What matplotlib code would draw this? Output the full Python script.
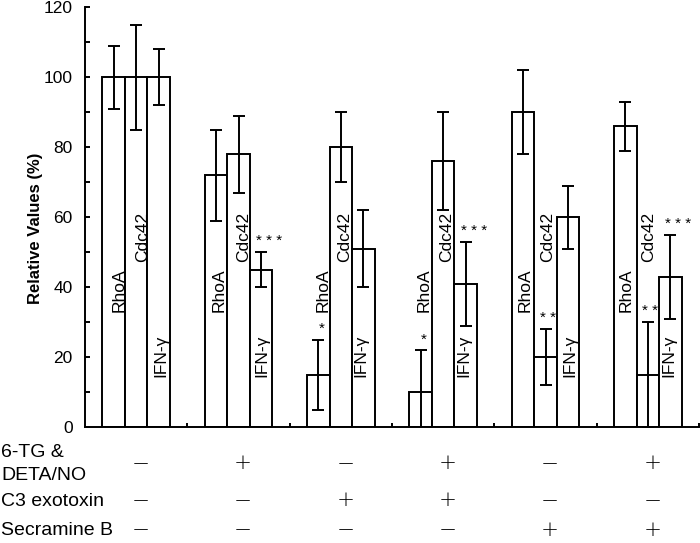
import matplotlib
matplotlib.use('Agg')
import matplotlib.pyplot as plt
from matplotlib import transforms
import numpy as np

plt.rcParams['font.family'] = ['Liberation Sans', 'DejaVu Sans']

# ---------------- data ----------------
groups = [1, 2, 3, 4, 5, 6]
proteins = ['RhoA', 'Cdc42', 'IFN-γ']
rhoa = [100, 72, 15, 10, 90, 86]
rhoa_err = [9, 13, 10, 12, 12, 7]
cdc42 = [100, 78, 80, 76, 20, 15]
cdc42_err = [15, 11, 10, 14, 8, 15]
ifng = [100, 45, 51, 41, 60, 43]
ifng_err = [8, 5, 11, 12, 9, 12]
rhoa_sig = ['', '', '*', '*', '', '']
cdc42_sig = ['', '', '', '', '* *', '* *']
ifng_sig = ['', '* * *', '', '* * *', '', '* * *']
row_names = ['C3 exotoxin', 'Secramine B']
tg_deta = ['−', '+', '−', '+', '−', '+']
c3 = ['−', '−', '+', '+', '−', '−']
secramine = ['−', '−', '−', '−', '+', '+']
y_ticks = [0, 20, 40, 60, 80, 100, 120]
y_label = 'Relative Values (%)'

# ---------------- layout ----------------
W, H = 700, 543
fig = plt.figure(figsize=(7.0, 5.43), dpi=100)
ax = fig.add_axes([85 / W, (H - 427) / H, (699 - 85) / W, (427 - 7) / H])

bar_w = 0.22
offsets = [-0.22, 0.0, 0.22]
lw = 1.4
series = [(rhoa, rhoa_err, rhoa_sig), (cdc42, cdc42_err, cdc42_sig), (ifng, ifng_err, ifng_sig)]
label_bottom = [33, 47.2, 14.4]
label_dx = [[0.040, 0.009, 0.034, 0.013, 0.004, -0.012],
            [0.043, 0.036, 0.021, 0.016, -0.001, -0.007],
            [0.006, -0.010, -0.039, -0.039, 0.0, -0.029]]
star_dx = [0.03, 0.025, 0.08]

x = np.array(groups, dtype=float)
for k, (vals, errs, sigs) in enumerate(series):
    xs = x + offsets[k]
    ax.bar(xs, vals, width=bar_w, color='white', edgecolor='black', linewidth=lw, zorder=2)
    ax.errorbar(xs, vals, yerr=errs, fmt='none', ecolor='black', elinewidth=lw,
                capsize=4.5, capthick=lw, zorder=3)
    for i in range(len(groups)):
        ax.text(xs[i] + label_dx[k][i] + 0.017, label_bottom[k], proteins[k], rotation=90,
                ha='center', va='bottom', fontsize=12.5, zorder=4)
        if sigs[i]:
            ax.text(xs[i] + star_dx[k], vals[i] + errs[i] + 4.4 - 2.5, sigs[i],
                    ha='center', va='baseline', fontsize=11, zorder=4)

ax.set_xlim(0.5, 6.5)
ax.set_ylim(0, 120)
ax.set_yticks(y_ticks)
ax.set_yticks([10, 30, 50, 70, 90, 110], minor=True)
ax.set_xticks(np.arange(1.0, 6.51, 0.5))
ax.set_xticklabels([])
ax.tick_params(axis='y', which='both', direction='in', length=3.6, width=lw, pad=9, labelsize=12.5)
ax.tick_params(axis='x', which='both', direction='in', length=2.9, width=lw)
for s in ['top', 'right']:
    ax.spines[s].set_visible(False)
for s in ['left', 'bottom']:
    ax.spines[s].set_linewidth(lw)
    ax.spines[s].set_zorder(5)

fig.text(35.5 / W, 1 - 228.5 / H, y_label, rotation=90, ha='center', va='center',
         fontsize=12, fontweight='bold')

# ---------------- treatment table ----------------
tr = transforms.blended_transform_factory(ax.transData, fig.transFigure)
row_y = [463.3, 500.0, 529.5]
for signs, yp in zip([tg_deta, c3, secramine], row_y):
    for g, s in zip(groups, signs):
        ax.text(g + 0.045, 1 - yp / H, s, transform=tr, ha='center', va='center',
                fontsize=15.5, family=['DejaVu Sans'], fontweight='light', clip_on=False)
fig.text(1 / W, 1 - 452.7 / H, '6-TG &', ha='left', va='center', fontsize=14)
fig.text(1 / W, 1 - 475.0 / H, 'DETA/NO', ha='left', va='center', fontsize=14)
fig.text(1 / W, 1 - 501.7 / H, row_names[0], ha='left', va='center', fontsize=14)
fig.text(1 / W, 1 - 530.5 / H, row_names[1], ha='left', va='center', fontsize=14)

fig.savefig('out.png', dpi=100)
